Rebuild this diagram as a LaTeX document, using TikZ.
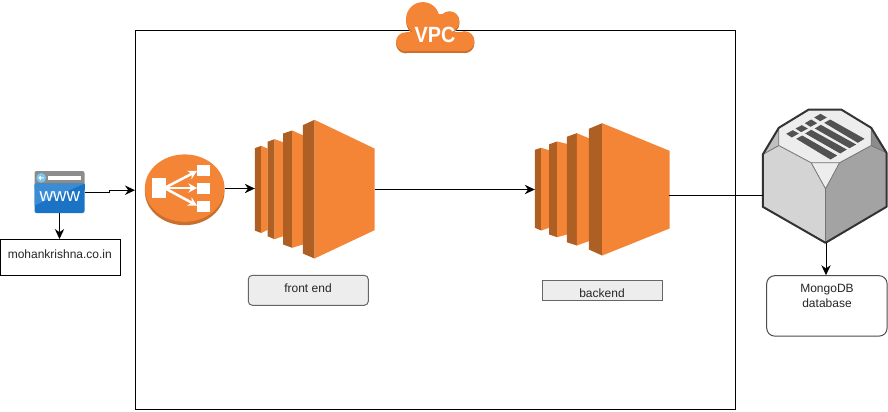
\documentclass[tikz,border=0pt]{standalone}
\usepackage{fontspec}
\setmainfont{Liberation Sans}
\usetikzlibrary{arrows.meta}
\definecolor{awsor}{HTML}{F58536}
\definecolor{awsdk}{HTML}{AD5F24}
\definecolor{awssh}{HTML}{C8702C}
\definecolor{wwwblue}{RGB}{26,115,196}
\definecolor{wwwlight}{RGB}{58,140,214}
\definecolor{wwwcirc}{RGB}{120,200,240}
\tikzset{
  x=0.75pt,y=-0.75pt,
  anchorbox/.style={inner sep=0pt,minimum width=#1,outer sep=0pt},
  conn/.style={draw=black,line width=0.75pt,-{Stealth[length=7.5pt,width=7pt]}},
  plain/.style={draw=black,line width=0.75pt},
  lbl/.style={font=\fontsize{9pt}{11.2pt}\selectfont,align=center,text=black!85},
  graybox/.style={draw=black!60,fill=black!7,line width=0.75pt,inner sep=0pt},
  whitebox/.style={draw=black,fill=white,line width=0.75pt,inner sep=0pt},
  elbarrow/.style={white,line width=1.9pt,-{Stealth[length=6.5pt,width=7pt]}},
}
\newcommand{\ecbar}[9]{%
  \fill[awsdk] (#1,#4) -- (#2,#5) -- (#2,#8) -- (#1,#7) -- cycle;
  \fill[awsor] (#2,#5) -- (#3,#6) -- (#3,#9) -- (#2,#8) -- cycle;
}
\newcommand{\cloudparts}[2]{%
  \fill[#1] (406,42.3+#2) circle[radius=9.5];
  \fill[#1] (423.3,19.3+#2) circle[radius=16.7];
  \fill[#1] (450,21.7+#2) circle[radius=10];
  \fill[#1] (465,41.7+#2) circle[radius=10];
  \fill[#1] (406,32+#2) rectangle (465,51.8+#2);
  \fill[#1] (430,14+#2) rectangle (452,34+#2);
}
\begin{document}
\begin{tikzpicture}
\useasboundingbox (0.5,0.5) rectangle (888.5,411.5);
\fill[white] (0.5,0.5) rectangle (888.5,411.5);

% VPC frame
\node[draw=black,line width=0.75pt,anchor=north west,inner sep=0pt,minimum width=450pt,minimum height=284.6pt] (vpc) at (135.5,30.5) {};

% cloud
\cloudparts{awssh}{2}
\cloudparts{awsor}{0}
\node[text=white,inner sep=0pt,font=\fontsize{16.5pt}{17pt}\selectfont\bfseries,xscale=0.9] (vpclabel) at (435.5,35.5) {VPC};

% www icon
\fill[rounded corners=1.5pt,fill=black!45!white] (35,171.5) rectangle (85,190);
\fill[rounded corners=1.5pt,fill=wwwblue] (35,184) rectangle (85,213.5);
\fill[fill=wwwblue] (35,184) rectangle (85,190);
\fill[fill=wwwlight] (35,184) -- (85,184) -- (35,206) -- cycle;
\fill[wwwcirc] (41.7,178.3) circle[radius=4.8];
\draw[white,line width=0.8pt] (44,178.3) -- (39.7,178.3) (41.3,176.6) -- (39.6,178.3) -- (41.3,180);
\fill[white] (48,176) rectangle (81.7,180);
\node[anchor=center,inner sep=0pt,text=white,font=\fontsize{14pt}{15pt}\selectfont] (wwwtext) at (60.3,197.3) {www};
\node[anchorbox=37.5pt,minimum height=31.5pt,anchor=north west] (www) at (35,171.5) {};

% domain box
\node[whitebox,anchor=north west,minimum width=90pt,minimum height=27pt] (domain) at (0.5,239.5) {};
\node[lbl,inner sep=0pt] (domaintext) at (60.3,254.5) {mohankrishna.co.in};

% load balancer
\fill[awssh] (185.2,192) ellipse[x radius=39.8,y radius=33.7];
\fill[awsor] (185.2,188.6) ellipse[x radius=39.8,y radius=33.7];
\fill[white] (152,178.3) rectangle (166,198.7);
\fill[white] (197.7,165) rectangle (210.7,176);
\fill[white] (197.7,183) rectangle (210.7,194);
\fill[white] (197.7,201.3) rectangle (210.7,212.3);
\draw[elbarrow] (165,188.5) -- (197.5,171.5);
\draw[elbarrow] (165,188.5) -- (197.5,188.5);
\draw[elbarrow] (165,188.5) -- (197.5,206);
\node[anchorbox=59.7pt,minimum height=53pt,anchor=north west] (elb) at (145.4,154) {};

% front EC2
\ecbar{255.3}{261.7}{268}{148.7}{146.3}{149}{231}{233.5}{230.5}
\ecbar{268}{275}{283.7}{142.3}{139.7}{142.7}{236.7}{239.7}{236.7}
\ecbar{283.7}{292.7}{303.3}{134}{131}{135.7}{245}{248.3}{245}
\ecbar{303.3}{315}{375}{125.7}{120.3}{149}{254}{259}{230.7}
\node[anchorbox=89.8pt,minimum height=104pt,anchor=north west] (front) at (255.3,120.3) {};

% back EC2
\ecbar{535.3}{541.7}{549.7}{150.3}{148.3}{150.7}{228.3}{231}{228.3}
\ecbar{549.7}{557.7}{567.3}{144.7}{142}{144.3}{235}{237.7}{235}
\ecbar{567.3}{577.3}{589.3}{137.3}{133.7}{138.7}{242.7}{246}{241.7}
\ecbar{589.3}{602.7}{670}{129.3}{123.7}{151.3}{250}{256}{229}
\node[anchorbox=100.5pt,minimum height=99.2pt,anchor=north west] (back) at (535.3,123.7) {};

% labels
\node[graybox,rounded corners=3pt,anchor=north west,minimum width=90pt,minimum height=22.5pt] (frontlabel) at (248.3,275.3) {};
\node[lbl,inner sep=0pt] (fronttext) at (308.5,288.8) {front end};
\node[graybox,anchor=north west,minimum width=90.3pt,minimum height=15pt] (backlabel) at (542.3,280.3) {};
\node[lbl,inner sep=0pt] (backtext) at (602.5,294) {backend};

% database
\fill[black!18!white] (763.3,155) -- (779.3,128.3) -- (809.3,110) -- (841.7,110) -- (871.7,128.3) -- (887,153.3) -- (887,207.3) -- (826,243.3) -- (763.3,207.3) -- cycle;
\fill[black!25!white] (763.3,155) -- (779.3,128.3) -- (779.3,146) -- cycle;
\fill[black!45!white] (871.7,128.3) -- (887,153.3) -- (871.7,146) -- cycle;
\fill[black!7!white] (779.3,128.3) -- (809.3,110) -- (841.7,110) -- (871.7,128.3) -- (871.7,146) -- (840,163.3) -- (811.7,163.3) -- (779.3,146) -- cycle;
\fill[black!17!white] (763.3,155) -- (779.3,146) -- (811.7,163.3) -- (826,189.3) -- (826,243.3) -- (763.3,207.3) -- cycle;
\fill[black!36!white] (887,153.3) -- (871.7,146) -- (840,163.3) -- (826,189.3) -- (826,243.3) -- (887,207.3) -- cycle;
\fill[black!7!white] (811.7,163.3) -- (840,163.3) -- (826,189.3) -- cycle;
\draw[black!55!white,line width=0.6pt] (779.3,128.3) -- (779.3,146) -- (811.7,163.3) -- (840,163.3) -- (871.7,146) -- (871.7,128.3) (811.7,163.3) -- (826,189.3) -- (840,163.3) (826,189.3) -- (826,243.3) (763.3,155) -- (779.3,146) (887,153.3) -- (871.7,146);
\fill[black!68!white] (786.7,134.3) -- (793.3,130.7) -- (799.3,134) -- (792.3,138) -- cycle
 (796,129) -- (802.3,125.7) -- (808.3,129) -- (801.7,132.7) -- cycle
 (805.3,123.7) -- (811.7,120) -- (817.7,123.7) -- (811,127.3) -- cycle
 (814.7,118) -- (821,114.3) -- (827.3,118) -- (820.7,121.7) -- cycle
 (796.7,139.3) -- (802.7,136) -- (837.7,156) -- (831,160) -- cycle
 (805.7,134) -- (811.7,130.3) -- (847.3,150) -- (840.7,154) -- cycle
 (815.3,129) -- (821.3,125.3) -- (856.7,145) -- (850,148.7) -- cycle
 (824.7,123.3) -- (830.7,120) -- (865,139.3) -- (858.3,143.3) -- cycle;
\draw[black!80,line width=1.5pt,line join=round] (763.3,155) -- (779.3,128.3) -- (809.3,110) -- (841.7,110) -- (871.7,128.3) -- (887,153.3) -- (887,207.3) -- (826,243.3) -- (763.3,207.3) -- cycle;
\node[anchorbox=92.8pt,minimum height=100pt,anchor=north west] (db) at (763.3,110) {};
\coordinate (dbbottom) at (826.5,243.3);

% mongo box
\node[whitebox,draw=black!70,rounded corners=6pt,anchor=north west,minimum width=90.3pt,minimum height=45.3pt] (mongo) at (766.7,275.7) {};
\node[lbl,inner sep=0pt] (mongotext) at (827.5,296) {MongoDB\\database};

% connectors
\draw[conn] (www.south) -- (www.south |- domain.north);
\coordinate (s1) at (110,192.7);
\coordinate (s2) at (110,190.7);
\draw[conn] (www.east |- s1) -- (s1) -- (s2) -- (vpc.west |- s2);
\draw[conn] (elb.east |- 0,189) -- (front.west |- 0,189);
\draw[conn] (front.east |- 0,190) -- (back.west |- 0,190);
\draw[plain] (back.east |- 0,195.7) -- (db.west |- 0,195.7);
\draw[conn] (dbbottom) -- (mongo.north -| dbbottom);
\end{tikzpicture}
\end{document}
